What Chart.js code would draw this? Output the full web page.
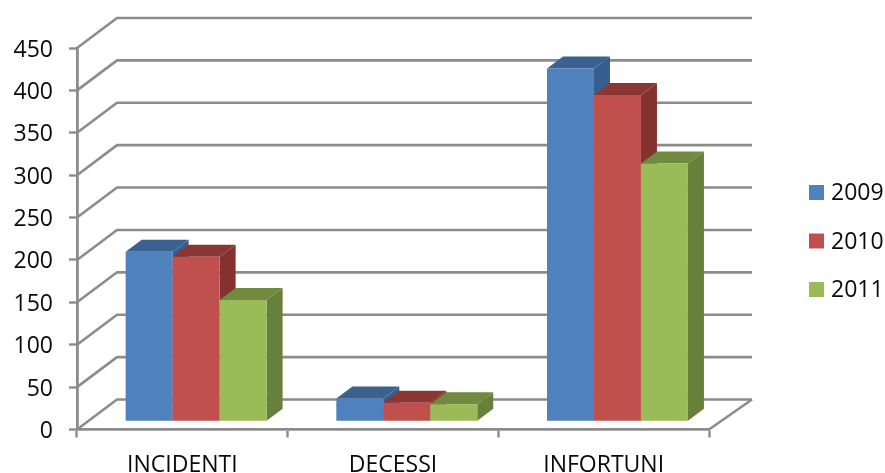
<!DOCTYPE html>
<html>
<head>
<meta charset="utf-8">
<style>
  html, body { margin: 0; padding: 0; background: #fff; }
  canvas { display: block; }
</style>
<script src="https://cdn.jsdelivr.net/npm/chart.js@4"></script>
</head>
<body>
<canvas id="infortuniChart" width="885" height="473"></canvas>
<script>
var categories = ["INCIDENTI", "DECESSI", "INFORTUNI"];
var years = ["2009", "2010", "2011"];
var values2009 = [200, 27, 416];
var values2010 = [194, 22, 385];
var values2011 = [143, 20, 304];

var lineColor = "#8c8c8c";
var textColor = "#0a0a0a";
var labelFont = { family: "'Open Sans'", size: 23 };

// front, top and side colour of each series
var faceColors = [
    { front: "#4f81bd", top: "#3a6190", side: "#365e8f" },
    { front: "#c0504d", top: "#8b3634", side: "#843230" },
    { front: "#9bbb59", top: "#718a40", side: "#67803b" }
];

// how far the floor and the bars go back
var wallDepth = { x: 40, y: 30 };
var barDepth = { x: 16, y: 12 };
var barShift = { x: 13.8, y: 8.2 };

/* back wall, left wall and floor, drawn from the y scale ticks */
var wallsPlugin = {
    id: "walls",
    beforeDatasetsDraw: function (chart) {
        var ctx = chart.ctx;
        var yScale = chart.scales.y;
        var area = chart.chartArea;
        ctx.save();
        ctx.strokeStyle = lineColor;
        ctx.lineWidth = 2.6;
        yScale.ticks.forEach(function (tick) {
            var y = yScale.getPixelForValue(tick.value);
            ctx.beginPath();
            ctx.moveTo(area.left, y);
            ctx.lineTo(area.left + wallDepth.x, y - wallDepth.y);
            ctx.lineTo(area.right + wallDepth.x + 3, y - wallDepth.y);
            ctx.stroke();
        });
        ctx.beginPath();
        ctx.moveTo(area.right, area.bottom);
        ctx.lineTo(area.right + wallDepth.x + 3, area.bottom - wallDepth.y);
        ctx.stroke();
        ctx.restore();
    }
};

function drawBarSides(ctx, bar, colors) {
    var left = bar.x - bar.width / 2;
    var right = bar.x + bar.width / 2;
    ctx.fillStyle = colors.top;
    ctx.beginPath();
    ctx.moveTo(left, bar.y);
    ctx.lineTo(left + barDepth.x, bar.y - barDepth.y);
    ctx.lineTo(right + barDepth.x, bar.y - barDepth.y);
    ctx.lineTo(right, bar.y);
    ctx.closePath();
    ctx.fill();
    ctx.fillStyle = colors.side;
    ctx.beginPath();
    ctx.moveTo(right, bar.y);
    ctx.lineTo(right + barDepth.x, bar.y - barDepth.y);
    ctx.lineTo(right + barDepth.x, bar.base - barDepth.y);
    ctx.lineTo(right, bar.base);
    ctx.closePath();
    ctx.fill();
}

/* series go left to right so each one covers the side of the previous,
   the default order paints them the other way round */
var extrudePlugin = {
    id: "extrude",
    beforeDatasetsDraw: function (chart) {
        var ctx = chart.ctx;
        chart.data.datasets.forEach(function (dataset, i) {
            var meta = chart.getDatasetMeta(i);
            ctx.save();
            ctx.translate(barShift.x, -barShift.y);
            meta.data.forEach(function (bar) {
                drawBarSides(ctx, bar, faceColors[i]);
            });
            meta.controller.draw();
            ctx.restore();
        });
        return false;
    }
};

/* legend on the right, the built in one keeps a wider gap after the swatch */
var sideLegendPlugin = {
    id: "sideLegend",
    afterDraw: function (chart) {
        var ctx = chart.ctx;
        ctx.save();
        ctx.font = labelFont.size + "px " + labelFont.family;
        ctx.textBaseline = "middle";
        chart.data.datasets.forEach(function (dataset, i) {
            var y = 192.5 + i * 48.5;
            ctx.fillStyle = dataset.backgroundColor;
            ctx.fillRect(809, y - 7.5, 15, 15);
            ctx.fillStyle = textColor;
            ctx.fillText(dataset.label, 831, y + 1);
        });
        ctx.restore();
    }
};

function makeSeries(index, values) {
    return {
        label: years[index],
        data: values,
        backgroundColor: faceColors[index].front,
        barPercentage: 1,
        categoryPercentage: 0.669
    };
}

var infortuniChart = new Chart(document.getElementById("infortuniChart"), {
    type: "bar",
    data: {
        labels: categories,
        datasets: [
            makeSeries(0, values2009),
            makeSeries(1, values2010),
            makeSeries(2, values2011)
        ]
    },
    options: {
        responsive: false,
        animation: false,
        layout: { padding: { top: 48, right: 176, bottom: 0, left: 0 } },
        plugins: {
            legend: { display: false },
            tooltip: { enabled: false }
        },
        scales: {
            x: {
                afterFit: function (scale) { scale.height = 43.5; },
                grid: { drawOnChartArea: false, tickLength: 8, tickWidth: 2.4, tickColor: lineColor },
                border: { color: lineColor, width: 2.8 },
                ticks: { color: textColor, font: labelFont, padding: 14, maxRotation: 0 }
            },
            y: {
                min: 0,
                max: 450,
                afterFit: function (scale) { scale.width = 77; },
                grid: { drawOnChartArea: false, tickLength: 8, tickWidth: 2.4, tickColor: lineColor },
                border: { color: lineColor, width: 2.8 },
                ticks: { stepSize: 50, color: textColor, font: labelFont, padding: 16, labelOffset: 2 }
            }
        }
    },
    plugins: [wallsPlugin, extrudePlugin, sideLegendPlugin]
});
</script>
</body>
</html>
